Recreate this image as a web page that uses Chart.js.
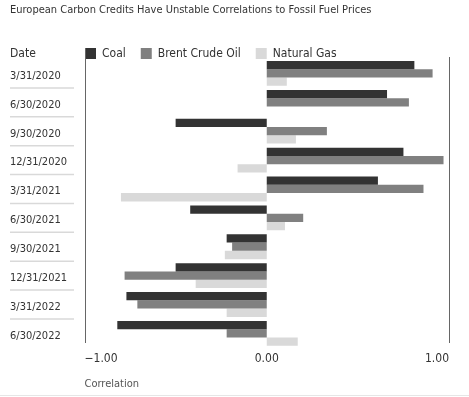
<!DOCTYPE html>
<html>
<head>
<meta charset="utf-8">
<script src="https://cdn.jsdelivr.net/npm/chart.js@4"></script>
<style>
  html, body { margin: 0; padding: 0; background: #fff; }
  #wrap { position: relative; width: 469px; height: 397px; }
  #bottomRule { position: absolute; left: 0; right: 0; top: 395px; height: 1px; background: #e6e6e6; }
</style>
</head>
<body>
<div id="wrap">
  <canvas id="chartCanvas" width="469" height="397"></canvas>
  <div id="bottomRule"></div>
</div>
<script>
const title = "European Carbon Credits Have Unstable Correlations to Fossil Fuel Prices";
const dates = ["3/31/2020", "6/30/2020", "9/30/2020", "12/31/2020", "3/31/2021",
               "6/30/2021", "9/30/2021", "12/31/2021", "3/31/2022", "6/30/2022"];
const seriesNames = ["Coal", "Brent Crude Oil", "Natural Gas"];
const coal = [0.81, 0.66, -0.50, 0.75, 0.61, -0.42, -0.22, -0.50, -0.77, -0.82];
const brent = [0.91, 0.78, 0.33, 0.97, 0.86, 0.20, -0.19, -0.78, -0.71, -0.22];
const gas = [0.11, 0, 0.16, -0.16, -0.80, 0.10, -0.23, -0.39, -0.22, 0.17];
const xTicks = [-1, 0, 1];

const FONT = "'DejaVu Sans Condensed', 'DejaVu Sans', sans-serif";
const TEXT = "#333333";

// title, legend, date header, separators between dates and the two vertical rules
const decorations = {
  id: "decorations",
  afterDraw(chart) {
    const ctx = chart.ctx;
    const x = chart.scales.x;
    const y = chart.scales.y;
    ctx.save();
    ctx.textBaseline = "middle";
    ctx.fillStyle = TEXT;

    ctx.font = "11px " + FONT;
    ctx.fillText(title, 10, 10);

    ctx.font = "12px " + FONT;
    ctx.fillText("Date", 10, 54);

    // legend
    let lx = Math.round(x.getPixelForValue(-1));
    chart.data.datasets.forEach(ds => {
      ctx.fillStyle = ds.backgroundColor;
      ctx.fillRect(lx, 48, 11, 11);
      ctx.fillStyle = TEXT;
      ctx.fillText(ds.label, lx + 17, 54);
      lx += 17 + ctx.measureText(ds.label).width + 15;
    });

    ctx.strokeStyle = "#d9d9d9";
    ctx.lineWidth = 1.5;
    for (let i = 0; i < dates.length - 1; i++) {
      const yy = (y.getPixelForValue(i) + y.getPixelForValue(i + 1)) / 2;
      ctx.beginPath();
      ctx.moveTo(10, yy);
      ctx.lineTo(74, yy);
      ctx.stroke();
    }

    ctx.strokeStyle = "#666666";
    ctx.lineWidth = 1;
    const xl = Math.round(x.getPixelForValue(-1)) + 0.5;
    const xr = Math.round(x.getPixelForValue(1)) + 0.5;
    ctx.beginPath();
    ctx.moveTo(xl, 48);
    ctx.lineTo(xl, 343);
    ctx.moveTo(xr, 57);
    ctx.lineTo(xr, 343);
    ctx.stroke();
    ctx.restore();
  }
};

new Chart(document.getElementById("chartCanvas"), {
  type: "bar",
  data: {
    labels: dates,
    datasets: [
      { label: seriesNames[0], data: coal, backgroundColor: "#333333" },
      { label: seriesNames[1], data: brent, backgroundColor: "#808080" },
      { label: seriesNames[2], data: gas, backgroundColor: "#d9d9d9" }
    ]
  },
  options: {
    indexAxis: "y",
    responsive: false,
    animation: false,
    layout: { padding: { left: 10, right: 20, top: 59, bottom: 6 } },
    datasets: { bar: { categoryPercentage: 0.86, barPercentage: 1, borderWidth: 0 } },
    plugins: {
      legend: { display: false },
      tooltip: { enabled: false }
    },
    scales: {
      x: {
        min: -1,
        max: 1,
        afterBuildTicks: (scale) => { scale.ticks = xTicks.map(v => ({ value: v })); },
        ticks: {
          align: "inner",
          color: TEXT,
          padding: 4.3,
          font: { family: FONT, size: 12 },
          callback: (v) => (v < 0 ? "\u2212" : "") + Math.abs(v).toFixed(2)
        },
        grid: { display: false, drawTicks: false },
        border: { display: false },
        title: {
          display: true,
          text: "Correlation",
          align: "start",
          color: "#555555",
          font: { family: FONT, size: 11 },
          padding: { top: 7, bottom: 0 }
        }
      },
      y: {
        ticks: {
          crossAlign: "far",
          color: TEXT,
          labelOffset: 2.5,
          font: { family: FONT, size: 11 }
        },
        afterFit: (scale) => { scale.width = 74.5; },
        grid: { display: false, drawTicks: false },
        border: { display: false }
      }
    }
  },
  plugins: [decorations]
});
</script>
</body>
</html>
